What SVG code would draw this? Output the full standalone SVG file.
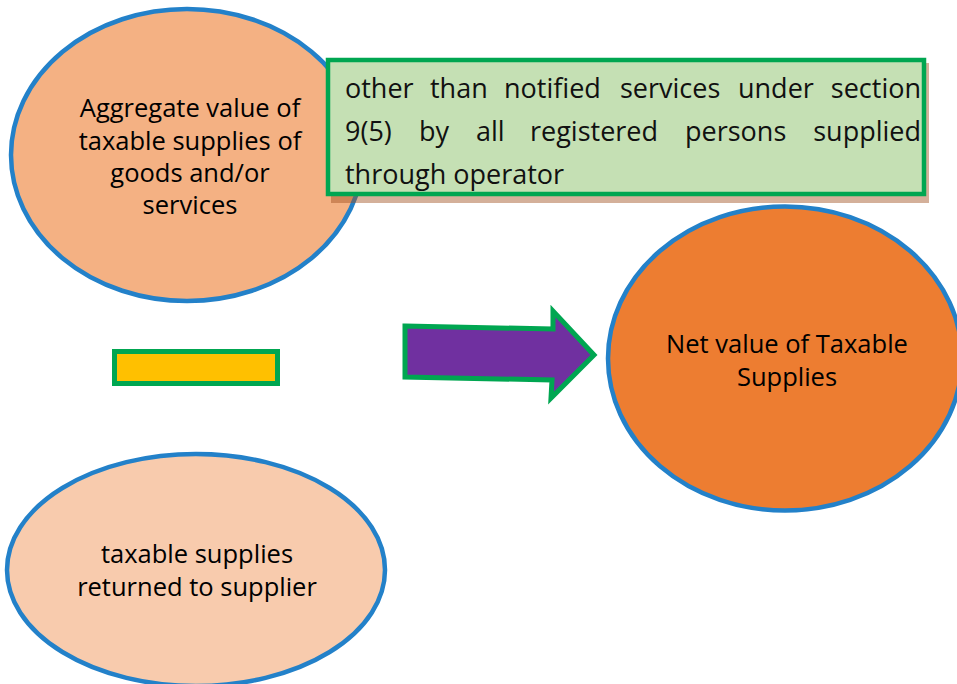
<svg xmlns="http://www.w3.org/2000/svg" width="957" height="684" viewBox="0 0 957 684">
<defs>
<style>
.node-ell{stroke:#2381C9;stroke-width:4.5}
.lbl{font-family:"Open Sans","Noto Sans","DejaVu Sans",sans-serif;font-size:25.5px;fill:#000;text-anchor:middle}
.box-t{font-family:"Open Sans","Noto Sans","DejaVu Sans",sans-serif;font-size:27px;fill:#111}
.box-e{text-anchor:end}
</style>
</defs>
<rect width="957" height="684" fill="#fff"/>
<g id="aggregate">
<ellipse class="node-ell" cx="187" cy="155" rx="176" ry="146" fill="#F4B183"/>
<text class="lbl" x="190" y="117">Aggregate value of</text>
<text class="lbl" x="190" y="150">taxable supplies of</text>
<text class="lbl" x="190" y="182">goods and/or</text>
<text class="lbl" x="190" y="214">services</text>
</g>
<g id="notified">
<rect x="331" y="63" width="598" height="140" fill="#A0501E" fill-opacity="0.45"/>
<rect x="328" y="60" width="596" height="134" fill="#C5E0B4" stroke="#00A651" stroke-width="4.5"/>
<text class="box-t" y="98"><tspan x="345">other</tspan><tspan x="430">than</tspan><tspan x="504">notified</tspan><tspan x="620">services</tspan><tspan x="738">under</tspan></text>
<text class="box-t box-e" x="921" y="98">section</text>
<text class="box-t" y="141"><tspan x="345">9(5)</tspan><tspan x="419">by</tspan><tspan x="476">all</tspan><tspan x="530">registered</tspan><tspan x="685">persons</tspan></text>
<text class="box-t box-e" x="921" y="141">supplied</text>
<text class="box-t" x="345" y="184">through operator</text>
</g>
<g id="minus">
<rect x="114.5" y="351.5" width="163" height="32" fill="#FFC000" stroke="#00A651" stroke-width="5"/>
</g>
<g id="connectors">
<polygon points="405,326 553,329 553,311 594,355 551,398 552,380 405,377" fill="#7030A0" stroke="#00A651" stroke-width="5" stroke-linejoin="miter"/>
</g>
<g id="net">
<ellipse class="node-ell" cx="785" cy="358.5" rx="177" ry="152" fill="#ED7D31"/>
<text class="lbl" x="787" y="353">Net value of Taxable</text>
<text class="lbl" x="787" y="386">Supplies</text>
</g>
<g id="returned">
<ellipse class="node-ell" cx="196" cy="570" rx="189" ry="116" fill="#F8CBAD"/>
<text class="lbl" x="197" y="563">taxable supplies</text>
<text class="lbl" x="197" y="596">returned to supplier</text>
</g>
</svg>
